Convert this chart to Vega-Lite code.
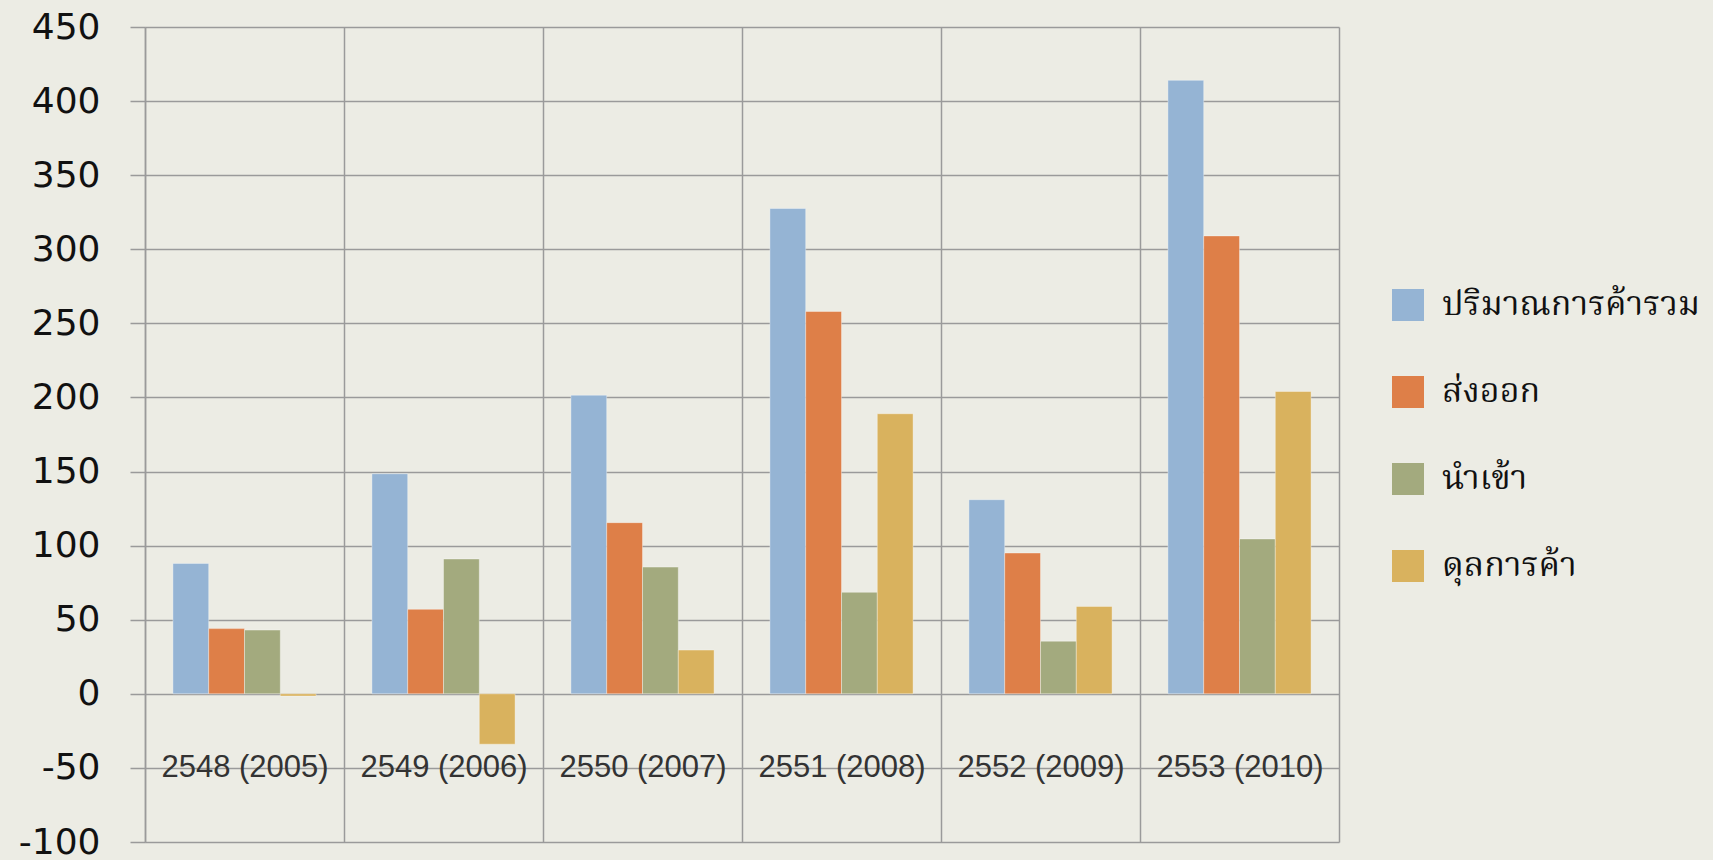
{
  "$schema": "https://vega.github.io/schema/vega-lite/v6.json",
  "width": 1194,
  "height": 815,
  "autosize": {"type": "none"},
  "padding": {"left": 145, "top": 27, "right": 374, "bottom": 18},
  "background": "#ECECE4",
  "config": {"view": {"stroke": null}},
  "data": {
    "values": [
      {"year": "2548 (2005)", "series": "ปริมาณการค้ารวม", "value": 88},
      {"year": "2548 (2005)", "series": "ส่งออก", "value": 44},
      {"year": "2548 (2005)", "series": "นำเข้า", "value": 43},
      {"year": "2548 (2005)", "series": "ดุลการค้า", "value": -1.5},
      {"year": "2549 (2006)", "series": "ปริมาณการค้ารวม", "value": 148.5},
      {"year": "2549 (2006)", "series": "ส่งออก", "value": 57},
      {"year": "2549 (2006)", "series": "นำเข้า", "value": 91},
      {"year": "2549 (2006)", "series": "ดุลการค้า", "value": -34},
      {"year": "2550 (2007)", "series": "ปริมาณการค้ารวม", "value": 201.5},
      {"year": "2550 (2007)", "series": "ส่งออก", "value": 115.5},
      {"year": "2550 (2007)", "series": "นำเข้า", "value": 85.5},
      {"year": "2550 (2007)", "series": "ดุลการค้า", "value": 29.5},
      {"year": "2551 (2008)", "series": "ปริมาณการค้ารวม", "value": 327.5},
      {"year": "2551 (2008)", "series": "ส่งออก", "value": 258},
      {"year": "2551 (2008)", "series": "นำเข้า", "value": 68.5},
      {"year": "2551 (2008)", "series": "ดุลการค้า", "value": 189},
      {"year": "2552 (2009)", "series": "ปริมาณการค้ารวม", "value": 131},
      {"year": "2552 (2009)", "series": "ส่งออก", "value": 95},
      {"year": "2552 (2009)", "series": "นำเข้า", "value": 35.5},
      {"year": "2552 (2009)", "series": "ดุลการค้า", "value": 59},
      {"year": "2553 (2010)", "series": "ปริมาณการค้ารวม", "value": 414},
      {"year": "2553 (2010)", "series": "ส่งออก", "value": 309},
      {"year": "2553 (2010)", "series": "นำเข้า", "value": 104.5},
      {"year": "2553 (2010)", "series": "ดุลการค้า", "value": 204}
    ]
  },
  "mark": {"type": "bar", "stroke": "#ffffff", "strokeOpacity": 0.35, "strokeWidth": 1},
  "encoding": {
    "x": {
      "field": "year",
      "type": "nominal",
      "title": null,
      "scale": {"paddingInner": 0, "paddingOuter": 0},
      "axis": {
        "orient": "bottom",
        "tickBand": "extent",
        "grid": true,
        "gridColor": "#9A9A9A",
        "gridWidth": 1.5,
        "ticks": false,
        "domain": false,
        "labelAngle": 0,
        "labelFont": "Liberation Sans",
        "labelFontSize": 31,
        "labelColor": "#333333",
        "labelBaseline": "middle",
        "labelPadding": -75
      }
    },
    "xOffset": {
      "field": "series",
      "type": "nominal",
      "sort": ["ปริมาณการค้ารวม", "ส่งออก", "นำเข้า", "ดุลการค้า"],
      "scale": {"paddingInner": 0, "paddingOuter": 0.78}
    },
    "y": {
      "field": "value",
      "type": "quantitative",
      "title": null,
      "scale": {"domain": [-100, 450], "nice": false},
      "axis": {
        "values": [-100, -50, 0, 50, 100, 150, 200, 250, 300, 350, 400, 450],
        "labelExpr": "'' + datum.value",
        "grid": true,
        "gridColor": "#9A9A9A",
        "gridWidth": 1.5,
        "domainColor": "#9A9A9A",
        "domainWidth": 1.5,
        "tickColor": "#9A9A9A",
        "tickWidth": 1.5,
        "tickSize": 15,
        "labelPadding": 30,
        "labelFont": "DejaVu Sans",
        "labelFontSize": 36,
        "labelColor": "#111111"
      }
    },
    "color": {
      "field": "series",
      "type": "nominal",
      "sort": ["ปริมาณการค้ารวม", "ส่งออก", "นำเข้า", "ดุลการค้า"],
      "scale": {
        "domain": ["ปริมาณการค้ารวม", "ส่งออก", "นำเข้า", "ดุลการค้า"],
        "range": ["#95B4D4", "#DE7F48", "#A3AA7E", "#D9B25E"]
      },
      "legend": {
        "title": null,
        "orient": "none",
        "legendX": 1246,
        "legendY": 261,
        "padding": 0,
        "symbolType": "square",
        "symbolSize": 1024,
        "symbolStrokeWidth": 0,
        "labelFontSize": 34,
        "labelLimit": 0,
        "labelFont": "Noto Serif Thai, Noto Sans Thai, Loma, Garuda, DejaVu Sans, sans-serif",
        "labelColor": "#111111",
        "labelOffset": 17,
        "rowPadding": 53
      }
    }
  }
}
